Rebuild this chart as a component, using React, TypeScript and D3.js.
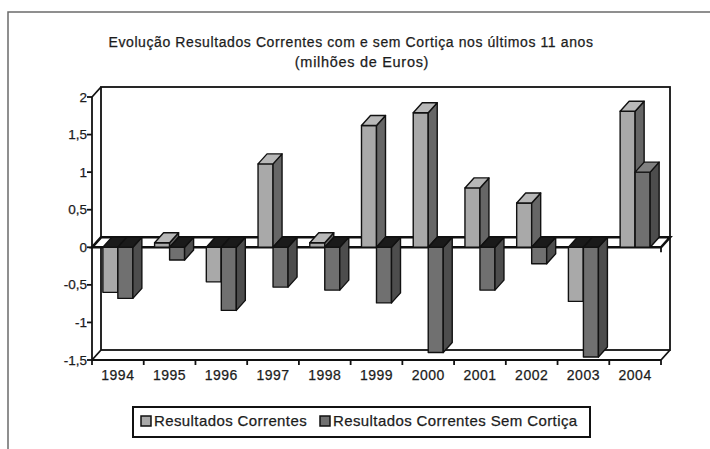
import * as d3 from "d3";

const YEARS = ["1994", "1995", "1996", "1997", "1998", "1999", "2000", "2001", "2002", "2003", "2004"];
const CORRENTES = [-0.6, 0.06, -0.46, 1.11, 0.06, 1.62, 1.79, 0.79, 0.59, -0.72, 1.81];
const SEM_CORTICA = [-0.68, -0.17, -0.84, -0.53, -0.57, -0.74, -1.4, -0.57, -0.22, -1.46, 1.0];
const Y_TICKS = [2, 1.5, 1, 0.5, 0, -0.5, -1, -1.5];
const SERIES = ["Resultados Correntes", "Resultados Correntes Sem Cortiça"];

const W = 710;
const H = 449;
const FONT = "'Liberation Sans', Arial, sans-serif";

// front plane of the 3d box, and the depth offset to the back wall
const PLOT = { left: 92, right: 661, top: 97, bottom: 360 };
const DEPTH = { dx: 9, dy: -10 };
const BAR_W = 15;

const COLORS = [
  { front: "#a9a9a9", side: "#666666", top: "#b8b8b8" },
  { front: "#707070", side: "#4d4d4d", top: "#808080" },
];

const fmt = (v: number) => String(v).replace(".", ",");

export default function App() {
  const x = d3.scaleBand<string>().domain(YEARS).range([PLOT.left, PLOT.right]);
  const y = d3.scaleLinear().domain([-1.5, 2]).range([PLOT.bottom, PLOT.top]);
  const inner = d3
    .scaleBand<number>()
    .domain([0, 1])
    .range([0, BAR_W * 2]);
  const groupOffset = (x.bandwidth() - BAR_W * 2) / 2;
  const { dx, dy } = DEPTH;
  const y0 = y(0);

  const pts = (p: number[][]) => p.map((d) => d.join(",")).join(" ");

  const bar = (year: string, s: number, v: number) => {
    const x0 = (x(year) ?? 0) + groupOffset + (inner(s) ?? 0);
    const x1 = x0 + inner.bandwidth();
    const yv = y(v);
    const top = Math.min(yv, y0);
    const bot = Math.max(yv, y0);
    const c = COLORS[s];
    const neg = v < 0;
    return (
      <g key={year + s} stroke="#111" strokeWidth={1.4} strokeLinejoin="round">
        <rect x={x0} y={top} width={x1 - x0} height={bot - top} fill={c.front} />
        <polygon
          points={pts([[x1, top], [x1 + dx, top + dy], [x1 + dx, bot + dy], [x1, bot]])}
          fill={c.side}
        />
        <polygon
          points={pts([[x0, top], [x0 + dx, top + dy], [x1 + dx, top + dy], [x1, top]])}
          fill={neg ? "#1a1a1a" : c.top}
        />
      </g>
    );
  };

  const catTicks = [...YEARS.map((d) => x(d) ?? 0), PLOT.right];
  const txt = { fill: "#1c1c1c", stroke: "#1c1c1c", strokeWidth: 0.25 };

  return (
    <svg
      width={W}
      height={H}
      style={{ position: "absolute", left: 0, top: 0, background: "#fff" }}
      fontFamily={FONT}
    >
      <rect x={0} y={0} width={W} height={H} fill="#fff" />
      {/* outer frame, only left and top edges visible */}
      <path d={`M8,${H} L8,12 L${W},12`} fill="none" stroke="#6b6b6b" strokeWidth={1.5} />

      <g {...txt} textAnchor="middle">
        <text x={351} y={47} fontSize={14} letterSpacing={0.6}>
          Evolução Resultados Correntes com e sem Cortiça nos últimos 11 anos
        </text>
        <text x={362} y={67} fontSize={14.5} letterSpacing={0.7}>
          (milhões de Euros)
        </text>
      </g>

      {/* back wall */}
      <rect
        x={PLOT.left + dx}
        y={PLOT.top + dy}
        width={PLOT.right - PLOT.left}
        height={PLOT.bottom - PLOT.top}
        fill="#fff"
        stroke="#111"
        strokeWidth={1.8}
      />
      {/* side wall and floor edges */}
      <g stroke="#111" strokeWidth={1.8} fill="none">
        <line x1={PLOT.left} y1={PLOT.top} x2={PLOT.left + dx} y2={PLOT.top + dy} />
        <line x1={PLOT.left} y1={PLOT.bottom} x2={PLOT.left + dx} y2={PLOT.bottom + dy} />
        <line x1={PLOT.right} y1={PLOT.bottom} x2={PLOT.right + dx} y2={PLOT.bottom + dy} />
      </g>

      {/* zero plane */}
      <polygon
        points={pts([
          [PLOT.left, y0],
          [PLOT.left + dx, y0 + dy],
          [PLOT.right + dx, y0 + dy],
          [PLOT.right, y0],
        ])}
        fill="#fff"
        stroke="#111"
        strokeWidth={2.6}
      />

      {YEARS.map((yr, i) => (
        <g key={yr}>
          {bar(yr, 0, CORRENTES[i])}
          {bar(yr, 1, SEM_CORTICA[i])}
        </g>
      ))}

      {/* front axes */}
      <g stroke="#111" strokeWidth={1.8}>
        <line x1={PLOT.left} y1={PLOT.top} x2={PLOT.left} y2={PLOT.bottom} />
        <line x1={PLOT.left} y1={PLOT.bottom} x2={PLOT.right} y2={PLOT.bottom} />
        {Y_TICKS.map((t) => (
          <line key={t} x1={PLOT.left - 5} y1={y(t)} x2={PLOT.left} y2={y(t)} />
        ))}
        {catTicks.map((t, i) => (
          <line key={i} x1={t} y1={PLOT.bottom} x2={t} y2={PLOT.bottom + 5} />
        ))}
        <line x1={PLOT.right} y1={y0} x2={PLOT.right} y2={y0 + 5} />
      </g>

      <g {...txt} fontSize={13.5} textAnchor="end">
        {Y_TICKS.map((t) => (
          <text key={t} x={PLOT.left - 5} y={y(t) + 4.5}>
            {fmt(t)}
          </text>
        ))}
      </g>
      <g {...txt} fontSize={14} letterSpacing={0.5} textAnchor="middle">
        {YEARS.map((yr) => (
          <text key={yr} x={(x(yr) ?? 0) + x.bandwidth() / 2} y={380}>
            {yr}
          </text>
        ))}
      </g>

      {/* legend */}
      <rect x={133} y={407} width={457} height={30} fill="#fff" stroke="#111" strokeWidth={2} />
      <rect x={141} y={416} width={10} height={10} fill={COLORS[0].front} stroke="#111" strokeWidth={1.5} />
      <rect x={320} y={416} width={10} height={10} fill={COLORS[1].front} stroke="#111" strokeWidth={1.5} />
      <g {...txt} fontSize={15} letterSpacing={0.4}>
        <text x={154} y={426}>
          {SERIES[0]}
        </text>
        <text x={333} y={426}>
          {SERIES[1]}
        </text>
      </g>
    </svg>
  );
}
